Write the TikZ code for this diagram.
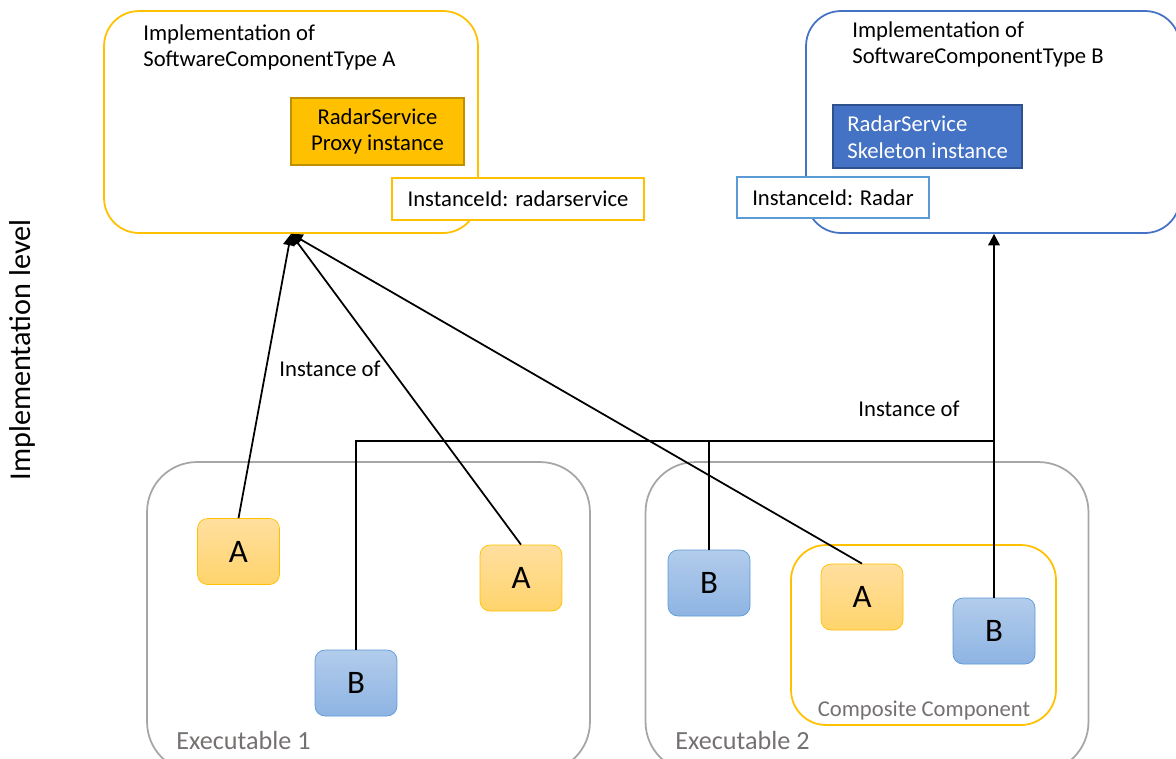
\documentclass[tikz,border=0pt]{standalone}
\usepackage{fontspec}
\setmainfont{Carlito}
\usetikzlibrary{arrows.meta}
\definecolor{implYellow}{HTML}{FFC000}
\definecolor{implBlue}{HTML}{4472C4}
\definecolor{idBlue}{HTML}{5B9BD5}
\definecolor{proxyEdge}{HTML}{BF9000}
\definecolor{skelEdge}{HTML}{2F528F}
\definecolor{exeGray}{HTML}{A6A6A6}
\definecolor{exeText}{HTML}{767171}
\definecolor{aTop}{HTML}{FFDF9F}
\definecolor{aBot}{HTML}{FFD46C}
\definecolor{bTop}{HTML}{B2CCEB}
\definecolor{bBot}{HTML}{8EB4E3}

\tikzset{
  implbox/.style={draw, line width=1pt, rounded corners=0.7cm, minimum width=7.48cm, minimum height=4.44cm},
  exebox/.style={draw=exeGray, line width=1pt, rounded corners=1cm, minimum width=8.86cm, minimum height=6.2cm},
  idbox/.style={draw, fill=white, line width=1pt, minimum height=0.83cm},
  compA/.style={draw=implYellow, top color=aTop, bottom color=aBot, rounded corners=0.2cm, minimum width=1.64cm, minimum height=1.32cm, font=\fontsize{18.7}{22}\selectfont},
  compB/.style={draw=idBlue, top color=bTop, bottom color=bBot, rounded corners=0.2cm, minimum width=1.64cm, minimum height=1.32cm, font=\fontsize{18.7}{22}\selectfont},
  exelabel/.style={text=exeText, font=\fontsize{14.9}{17}\selectfont, anchor=base west, inner sep=0pt},
  link/.style={line width=1pt},
  instof/.style={link, -{Triangle[length=6.5pt,width=6.5pt]}}
}

\begin{document}
\begin{tikzpicture}[x=0.02cm, y=-0.02cm, font=\fontsize{12.9}{15.3}\selectfont]
  \useasboundingbox (0,0) rectangle (1176,758);

  % side caption
  \node (level) [rotate=90, font=\fontsize{17.2}{20}\selectfont] at (22,350) {Implementation level};

  % implementations
  \node (implA) [implbox, draw=implYellow] at (291,122) {};
  \node (implAtitle) [anchor=north west, align=left, inner sep=0pt] at (143,24) {Implementation of\\SoftwareComponentType A};
  \node (proxy) [draw=proxyEdge, fill=implYellow, line width=1pt, align=center, minimum width=3.46cm, minimum height=1.34cm] at (377.5,131.5) {RadarService\\Proxy instance};
  \node (idA) [idbox, draw=implYellow, minimum width=5.04cm] at (518,199) {InstanceId: radarservice};

  \node (implB) [implbox, draw=implBlue] at (993,122) {};
  \node (implBtitle) [anchor=north west, align=left, inner sep=0pt] at (852,21) {Implementation of\\SoftwareComponentType B};
  \node (skeleton) [draw=skelEdge, fill=implBlue, line width=1pt, minimum width=3.78cm, minimum height=1.26cm] at (927.5,136.5) {};
  \node (skeletontext) [text=white, align=left, anchor=west, inner sep=0pt] at (847,137.5) {RadarService\\Skeleton instance};
  \node (idB) [idbox, draw=idBlue, minimum width=3.84cm] at (833,197.5) {InstanceId: Radar};

  % executables
  \node (exe1) [exebox] at (368.5,617) {};
  \node (exe1label) [exelabel] at (176,749) {Executable 1};
  \node (exe2) [exebox] at (867,617) {};
  \node (exe2label) [exelabel] at (675,749) {Executable 2};
  \node (comp) [draw=implYellow, line width=1pt, rounded corners=0.7cm, minimum width=5.3cm, minimum height=3.6cm] at (923.5,635) {};
  \node (complabel) [text=exeText, anchor=base, inner sep=0pt] at (924,716) {Composite Component};

  % instances
  \node (a1) [compA] at (238.5,551.5) {A};
  \node (a2) [compA] at (521,578) {A};
  \node (b1) [compB] at (356,683) {B};
  \node (b2) [compB] at (709,583) {B};
  \node (a3) [compA] at (862,597) {A};
  \node (b3) [compB] at (994,631) {B};

  % instance-of links
  \coordinate (join) at (994,441);
  \draw[instof] (a1.north) -- (implA.south);
  \draw[instof] (a2.north) -- (implA.south);
  \draw[instof] (a3.north) -- (implA.south);
  \draw[link] (b1.north) |- (join);
  \draw[link] (b2.north) -- (b2.north |- join);
  \draw[instof] (b3.north) -- (b3.north |- implB.south);
  \node (instA) at (330,369) {Instance of};
  \node (instB) at (909,409) {Instance of};
\end{tikzpicture}
\end{document}
